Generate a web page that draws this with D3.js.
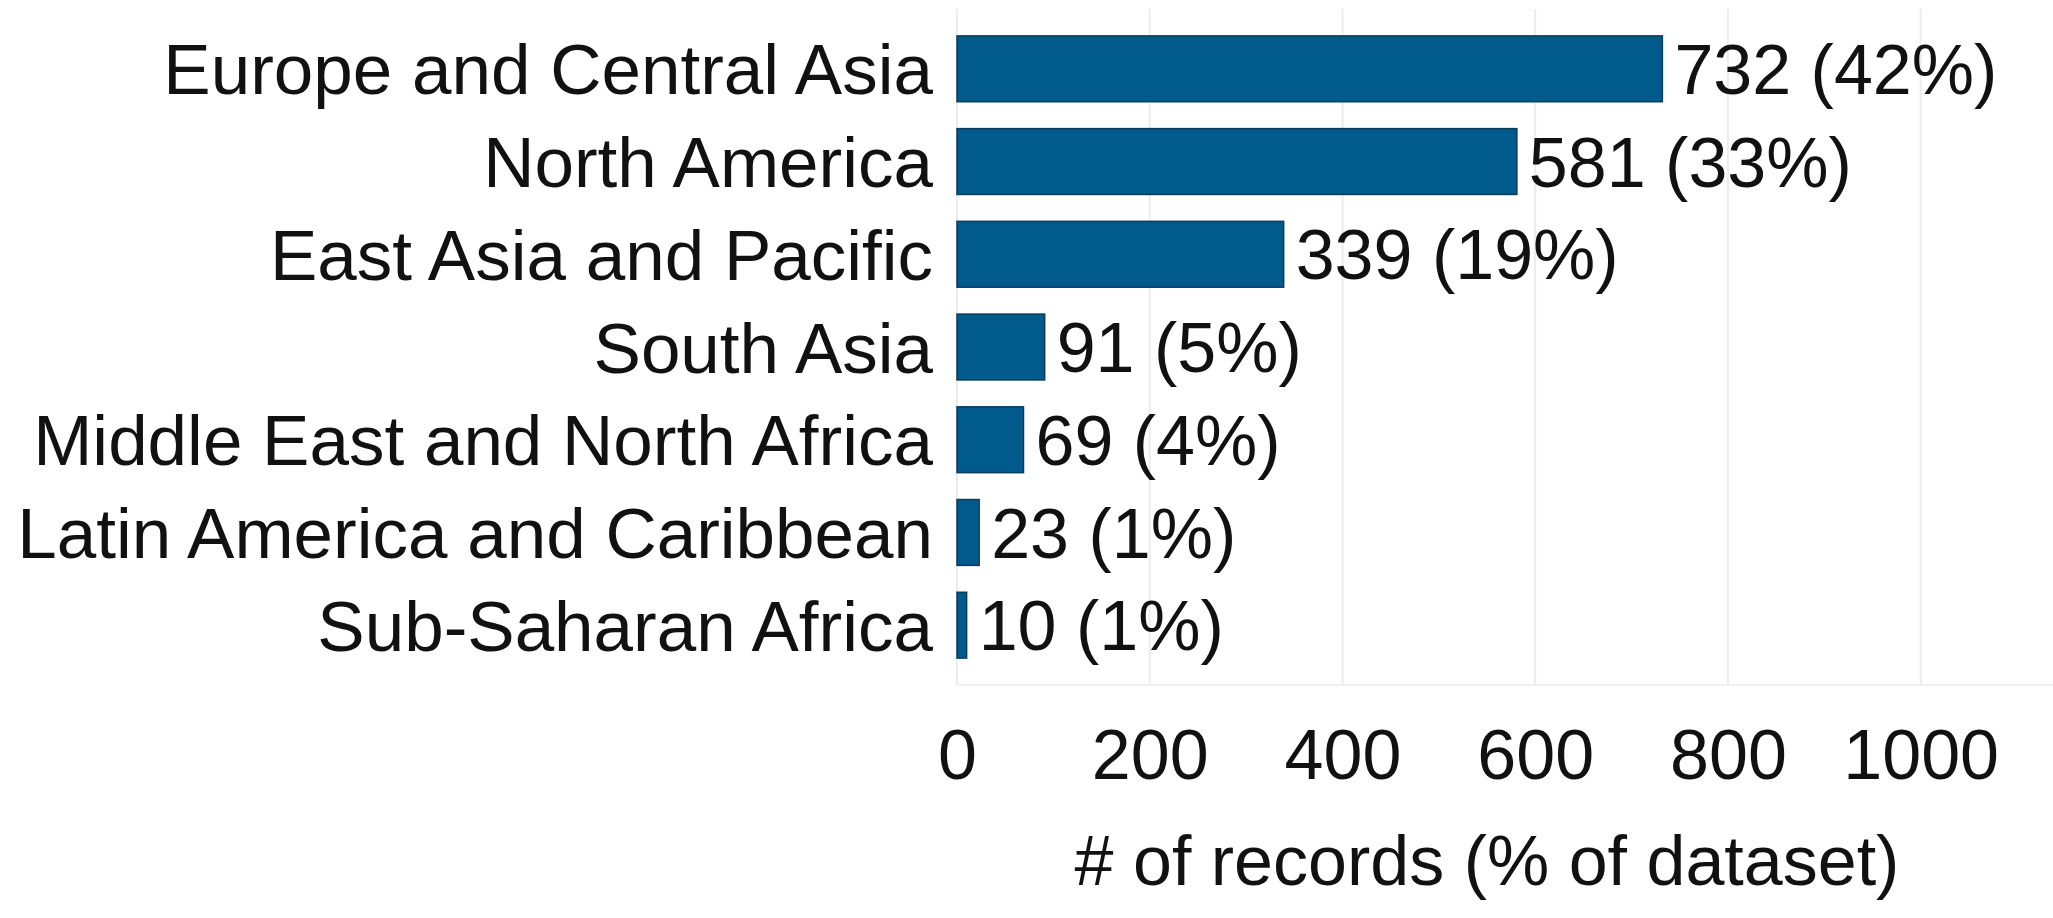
<!DOCTYPE html>
<html>
<head>
<meta charset="utf-8">
<script src="https://cdn.jsdelivr.net/npm/d3@7"></script>
<style>
  body { margin: 0; background: #fff; }
  text { font-family: "Liberation Sans", Arial, sans-serif; fill: #111; }
</style>
</head>
<body>
<div id="chart"></div>
<script>
// data
var regions = ["Europe and Central Asia", "North America", "East Asia and Pacific", "South Asia",
               "Middle East and North Africa", "Latin America and Caribbean", "Sub-Saharan Africa"]
var records = [732, 581, 339, 91, 69, 23, 10]
var shares = [42, 33, 19, 5, 4, 1, 1]
var ticks = [0, 200, 400, 600, 800, 1000]

var width = 2053, height = 918
var margin = {top: 9, right: 0, bottom: 233, left: 957}

var svg = d3.select("#chart").append("svg")
    .attr("width", width)
    .attr("height", height)

var x = d3.scaleLinear()
    .domain([0, 1100])
    .range([margin.left, margin.left + 1060])

var y = d3.scaleBand()
    .domain(regions)
    .range([margin.top, height - margin.bottom])
    .padding(0.29)

// vertical grid lines
svg.append("g")
    .selectAll("line")
    .data(ticks)
    .enter().append("line")
    .attr("x1", function(d) { return x(d) })
    .attr("x2", function(d) { return x(d) })
    .attr("y1", margin.top)
    .attr("y2", height - margin.bottom)
    .attr("stroke", "#ececec")
    .attr("stroke-width", 2)

svg.append("line")
    .attr("x1", x(0)).attr("x2", width)
    .attr("y1", height - margin.bottom).attr("y2", height - margin.bottom)
    .attr("stroke", "#f0f0f0").attr("stroke-width", 2)

// bars
svg.append("g")
    .selectAll("rect")
    .data(regions)
    .enter().append("rect")
    .attr("x", x(0))
    .attr("y", function(d) { return y(d) })
    .attr("width", function(d, i) { return x(records[i]) - x(0) })
    .attr("height", y.bandwidth())
    .attr("fill", "#005a8c")
    .attr("stroke", "#0a3d5c")
    .attr("stroke-width", 1.5)

// value labels
svg.append("g")
    .selectAll("text")
    .data(regions)
    .enter().append("text")
    .attr("x", function(d, i) { return x(records[i]) + 12 })
    .attr("y", function(d) { return y(d) + y.bandwidth() / 2 })
    .attr("dy", "0.36em")
    .style("font-size", "70px")
    .text(function(d, i) { return records[i] + " (" + shares[i] + "%)" })

// category labels
svg.append("g")
    .selectAll("text")
    .data(regions)
    .enter().append("text")
    .attr("x", x(0) - 24)
    .attr("y", function(d) { return y(d) + y.bandwidth() / 2 })
    .attr("dy", "0.36em")
    .attr("text-anchor", "end")
    .style("font-size", "71px")
    .text(function(d) { return d })

// x axis
var xAxis = svg.append("g")
    .attr("transform", "translate(0," + (height - margin.bottom) + ")")
    .call(d3.axisBottom(x).tickValues(ticks).tickFormat(d3.format("d")).tickSize(0).tickPadding(44))
xAxis.select(".domain").remove()
xAxis.selectAll("text")
    .style("font-size", "70px")
    .style("font-family", "Liberation Sans, Arial, sans-serif")
    .attr("fill", "#111")

svg.append("text")
    .attr("x", 1487)
    .attr("y", 885)
    .attr("text-anchor", "middle")
    .style("font-size", "70px")
    .text("# of records (% of dataset)")
</script>
</body>
</html>
